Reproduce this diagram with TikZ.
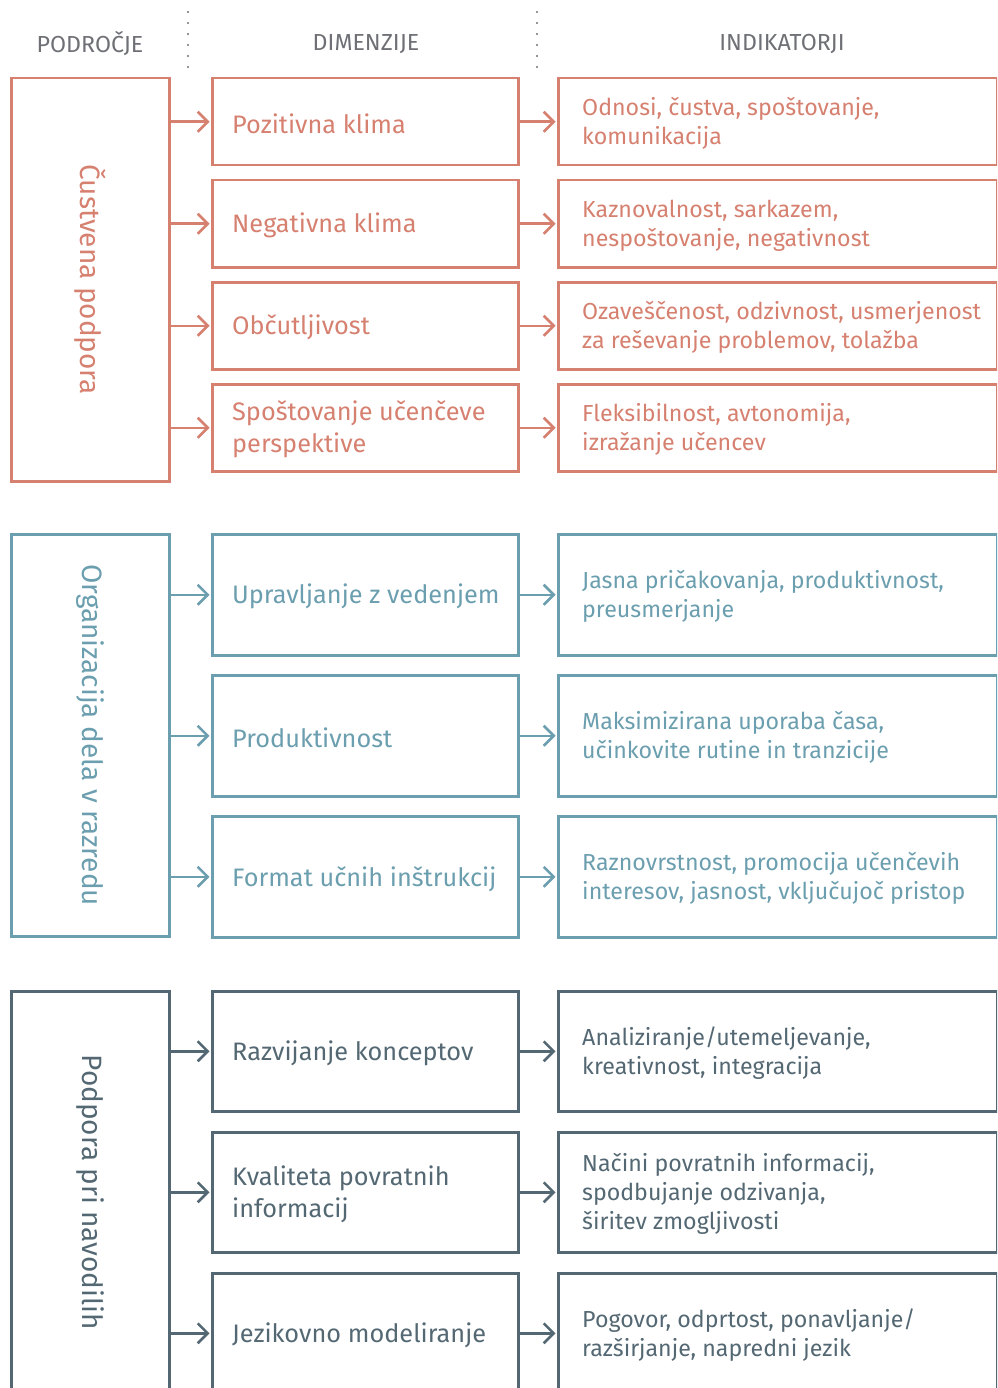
\documentclass[tikz,border=0pt]{standalone}
\usepackage{fontspec}
\setmainfont{Fira Sans}
\usetikzlibrary{arrows.meta,positioning}
\definecolor{EmoClr}{HTML}{D68070}
\definecolor{OrgClr}{HTML}{6B9EAE}
\definecolor{InsClr}{HTML}{546873}
\definecolor{HeadClr}{HTML}{6E7075}

\begin{document}
\begin{tikzpicture}[x=1pt,y=-1pt,
  area/.style={draw,line width=2.5pt,anchor=north west,minimum width=158pt,inner sep=0pt},
  dimbox/.style={draw,line width=2.5pt,anchor=north west,minimum width=306pt,inner sep=0pt},
  indbox/.style={draw,line width=2.5pt,anchor=north west,minimum width=439pt,inner sep=0pt},
  areatext/.style={rotate=-90,inner sep=0pt,font=\fontsize{28}{32}\selectfont},
  dimtext/.style={anchor=west,align=left,inner sep=0pt,yshift=-2pt,font=\fontsize{25.3}{32}\selectfont},
  indtext/.style={anchor=west,align=left,inner sep=0pt,yshift=-2pt,font=\fontsize{23.2}{29}\selectfont},
  head/.style={HeadClr,inner sep=0pt,font=\fontsize{23.2}{26}\selectfont},
  sep/.style={HeadClr,line width=2.2pt,line cap=round,dash pattern=on 0pt off 11pt},
  link/.style={line width=2.5pt,shorten >=1.5pt,-{Straight Barb[length=10pt,width=20pt]}}]
\clip (0,0) rectangle (997,1388);

\node[head] (h1) at (90,44) {PODROČJE};
\node[head] (h2) at (366,44) {DIMENZIJE};
\node[head] (h3) at (782,44) {INDIKATORJI};
\draw[sep] (188,12) -- (188,78);
\draw[sep] (537,12) -- (537,78);

\begin{scope}[EmoClr]
\node[area,minimum height=403pt] (c1) at (10,77) {};
\node[areatext] (c1t) at (c1) {Čustvena podpora};
\node[dimbox,minimum height=87pt] (d1) at (211,77) {};
\node[dimbox,minimum height=87pt] (d2) at (211,179) {};
\node[dimbox,minimum height=87pt] (d3) at (211,281) {};
\node[dimbox,minimum height=87pt] (d4) at (211,383) {};
\node[indbox,minimum height=87pt] (i1) at (557,77) {};
\node[indbox,minimum height=87pt] (i2) at (557,179) {};
\node[indbox,minimum height=87pt] (i3) at (557,281) {};
\node[indbox,minimum height=87pt] (i4) at (557,383) {};
\node[dimtext] (d1t) [right=21pt of d1.west] {Pozitivna klima};
\node[dimtext] (d2t) [right=21pt of d2.west] {Negativna klima};
\node[dimtext] (d3t) [right=21pt of d3.west] {Občutljivost};
\node[dimtext] (d4t) [right=21pt of d4.west] {Spoštovanje učenčeve\\perspektive};
\node[indtext] (i1t) [right=25pt of i1.west] {Odnosi, čustva, spoštovanje,\\komunikacija};
\node[indtext] (i2t) [right=25pt of i2.west] {Kaznovalnost, sarkazem,\\nespoštovanje, negativnost};
\node[indtext] (i3t) [right=25pt of i3.west] {Ozaveščenost, odzivnost, usmerjenost\\za reševanje problemov, tolažba};
\node[indtext] (i4t) [right=25pt of i4.west] {Fleksibilnost, avtonomija,\\izražanje učencev};
\draw[link] (d1.west -| c1.east) -- (d1.west);
\draw[link] (d2.west -| c1.east) -- (d2.west);
\draw[link] (d3.west -| c1.east) -- (d3.west);
\draw[link] (d4.west -| c1.east) -- (d4.west);
\draw[link] (d1.east) -- (i1.west);
\draw[link] (d2.east) -- (i2.west);
\draw[link] (d3.east) -- (i3.west);
\draw[link] (d4.east) -- (i4.west);
\end{scope}

\begin{scope}[OrgClr]
\node[area,minimum height=402pt] (c2) at (10,533) {};
\node[areatext] (c2t) at (c2) {Organizacija dela v razredu};
\node[dimbox,minimum height=121pt] (d5) at (211,533) {};
\node[dimbox,minimum height=121pt] (d6) at (211,674) {};
\node[dimbox,minimum height=121pt] (d7) at (211,815) {};
\node[indbox,minimum height=121pt] (i5) at (557,533) {};
\node[indbox,minimum height=121pt] (i6) at (557,674) {};
\node[indbox,minimum height=121pt] (i7) at (557,815) {};
\node[dimtext] (d5t) [right=21pt of d5.west] {Upravljanje z vedenjem};
\node[dimtext] (d6t) [right=21pt of d6.west] {Produktivnost};
\node[dimtext] (d7t) [right=21pt of d7.west] {Format učnih inštrukcij};
\node[indtext] (i5t) [right=25pt of i5.west] {Jasna pričakovanja, produktivnost,\\preusmerjanje};
\node[indtext] (i6t) [right=25pt of i6.west] {Maksimizirana uporaba časa,\\učinkovite rutine in tranzicije};
\node[indtext] (i7t) [right=25pt of i7.west] {Raznovrstnost, promocija učenčevih\\interesov, jasnost, vključujoč pristop};
\draw[link] (d5.west -| c2.east) -- (d5.west);
\draw[link] (d6.west -| c2.east) -- (d6.west);
\draw[link] (d7.west -| c2.east) -- (d7.west);
\draw[link] (d5.east) -- (i5.west);
\draw[link] (d6.east) -- (i6.west);
\draw[link] (d7.east) -- (i7.west);
\end{scope}

\begin{scope}[InsClr]
\node[area,minimum height=402pt] (c3) at (10,990) {};
\node[areatext] (c3t) at (c3) {Podpora pri navodilih};
\node[dimbox,minimum height=120pt] (d8) at (211,990) {};
\node[dimbox,minimum height=120pt] (d9) at (211,1131) {};
\node[dimbox,minimum height=120pt] (d10) at (211,1272) {};
\node[indbox,minimum height=120pt] (i8) at (557,990) {};
\node[indbox,minimum height=120pt] (i9) at (557,1131) {};
\node[indbox,minimum height=120pt] (i10) at (557,1272) {};
\node[dimtext] (d8t) [right=21pt of d8.west] {Razvijanje konceptov};
\node[dimtext] (d9t) [right=21pt of d9.west] {Kvaliteta povratnih\\informacij};
\node[dimtext] (d10t) [right=21pt of d10.west] {Jezikovno modeliranje};
\node[indtext] (i8t) [right=25pt of i8.west] {Analiziranje/utemeljevanje,\\kreativnost, integracija};
\node[indtext] (i9t) [right=25pt of i9.west] {Načini povratnih informacij,\\spodbujanje odzivanja,\\širitev zmogljivosti};
\node[indtext] (i10t) [right=25pt of i10.west] {Pogovor, odprtost, ponavljanje/\\razširjanje, napredni jezik};
\draw[link] (d8.west -| c3.east) -- (d8.west);
\draw[link] (d9.west -| c3.east) -- (d9.west);
\draw[link] (d10.west -| c3.east) -- (d10.west);
\draw[link] (d8.east) -- (i8.west);
\draw[link] (d9.east) -- (i9.west);
\draw[link] (d10.east) -- (i10.west);
\end{scope}
\end{tikzpicture}
\end{document}
